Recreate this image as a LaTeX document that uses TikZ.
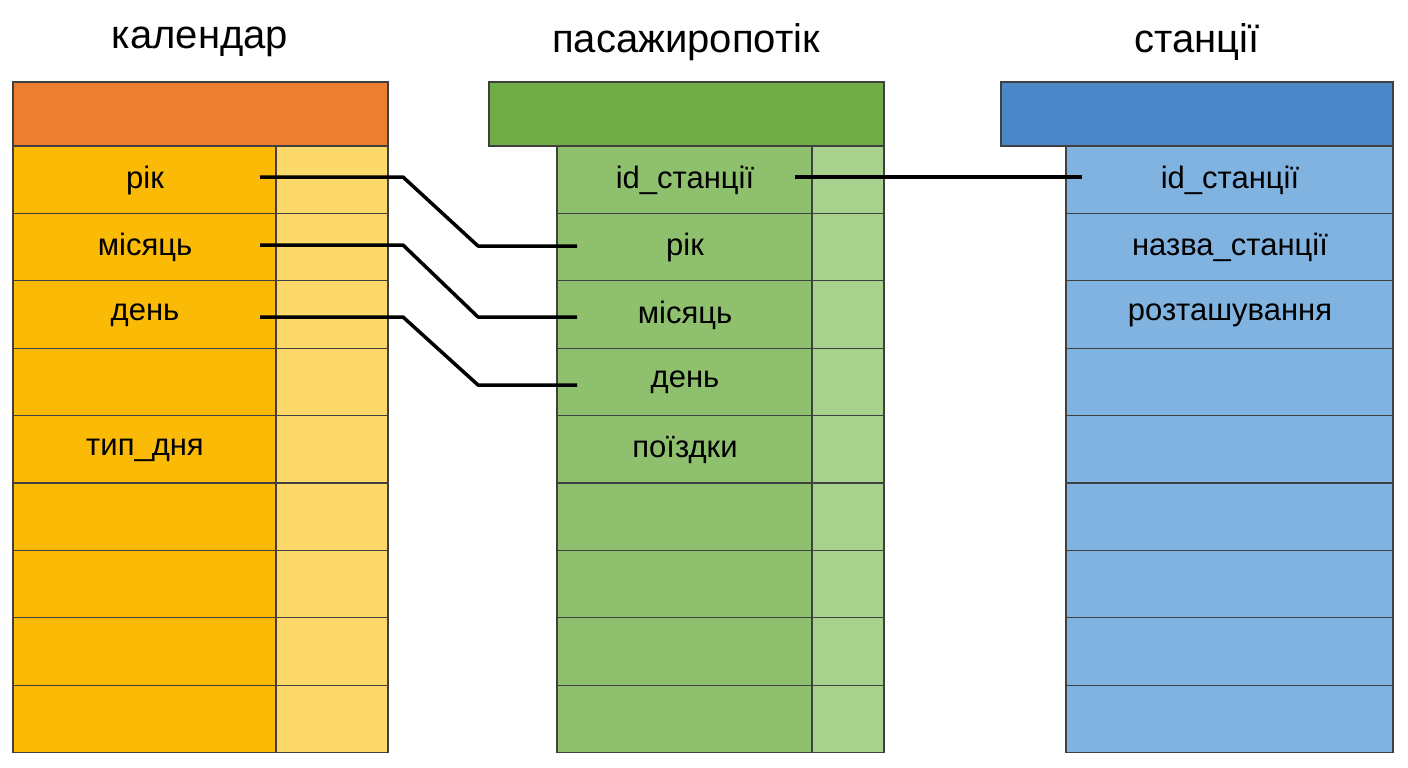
\documentclass[tikz,border=0pt]{standalone}
\usepackage{fontspec}
\setmainfont{Liberation Sans}
\definecolor{calhead}{HTML}{ED7D31}
\definecolor{calmain}{HTML}{FBBA06}
\definecolor{calside}{HTML}{FDD96B}
\definecolor{flowhead}{HTML}{70AD47}
\definecolor{flowmain}{HTML}{8FC06E}
\definecolor{flowside}{HTML}{A9D18E}
\definecolor{stahead}{HTML}{4A86C8}
\definecolor{stamain}{HTML}{80B3E0}
\tikzset{
  cell/.style={draw=black!75, line width=1.2pt},
  title/.style={font=\fontsize{40}{44}\selectfont},
  field/.style={font=\fontsize{31}{34}\selectfont, inner sep=0pt},
  link/.style={line width=3.5pt, line join=round}
}
\begin{document}
\begin{tikzpicture}[x=1pt,y=-1pt]
    \useasboundingbox (0,0) rectangle (1408,768);
    % titles
    \node[title] (tcal) at (200,42) {календар};
    \node[title] (tflow) at (686,42) {пасажиропотік};
    \node[title] (tsta) at (1197,42) {станції};
    % headers
    \filldraw[cell, fill=calhead] (13,82) rectangle (388,146);
    \filldraw[cell, fill=flowhead] (489,82) rectangle (884,146);
    \filldraw[cell, fill=stahead] (1001,82) rectangle (1393,146);
    % rows
    \foreach \i in {0,...,8} {
        \pgfmathsetmacro{\ya}{146+67.4*\i}
        \pgfmathsetmacro{\yb}{146+67.4*(\i+1)}
        \filldraw[cell, fill=calmain] (13,\ya) rectangle (276,\yb);
        \filldraw[cell, fill=calside] (276,\ya) rectangle (388,\yb);
        \filldraw[cell, fill=flowmain] (557,\ya) rectangle (812,\yb);
        \filldraw[cell, fill=flowside] (812,\ya) rectangle (884,\yb);
        \filldraw[cell, fill=stamain] (1066,\ya) rectangle (1393,\yb);
    }
    % fields
    \node[field] (crik) at (145,180) {рік};
    \node[field] (cmis) at (145,247) {місяць};
    \node[field] (cden) at (145,315) {день};
    \node[field] (ctyp) at (145,450) {тип\_дня};
    \node[field] (fid) at (685,180) {id\_станції};
    \node[field] (frik) at (685,247) {рік};
    \node[field] (fmis) at (685,315) {місяць};
    \node[field] (fden) at (685,382) {день};
    \node[field] (ftrip) at (685,450) {поїздки};
    \node[field] (sid) at (1230,180) {id\_станції};
    \node[field] (snam) at (1230,247) {назва\_станції};
    \node[field] (sloc) at (1230,315) {розташування};
    % links
    \coordinate (crikR) at (260,177);
    \coordinate (cmisR) at (260,245);
    \coordinate (cdenR) at (260,317);
    \coordinate (frikL) at (577,246);
    \coordinate (fmisL) at (577,317);
    \coordinate (fdenL) at (577,385);
    \coordinate (fidR) at (795,177);
    \coordinate (sidL) at (1082,177);
    \draw[link] (crikR) -- (403,177) -- (478,246) -- (frikL);
    \draw[link] (cmisR) -- (403,245) -- (478,317) -- (fmisL);
    \draw[link] (cdenR) -- (403,317) -- (478,385) -- (fdenL);
    \draw[link] (fidR) -- (sidL);
\end{tikzpicture}
\end{document}
